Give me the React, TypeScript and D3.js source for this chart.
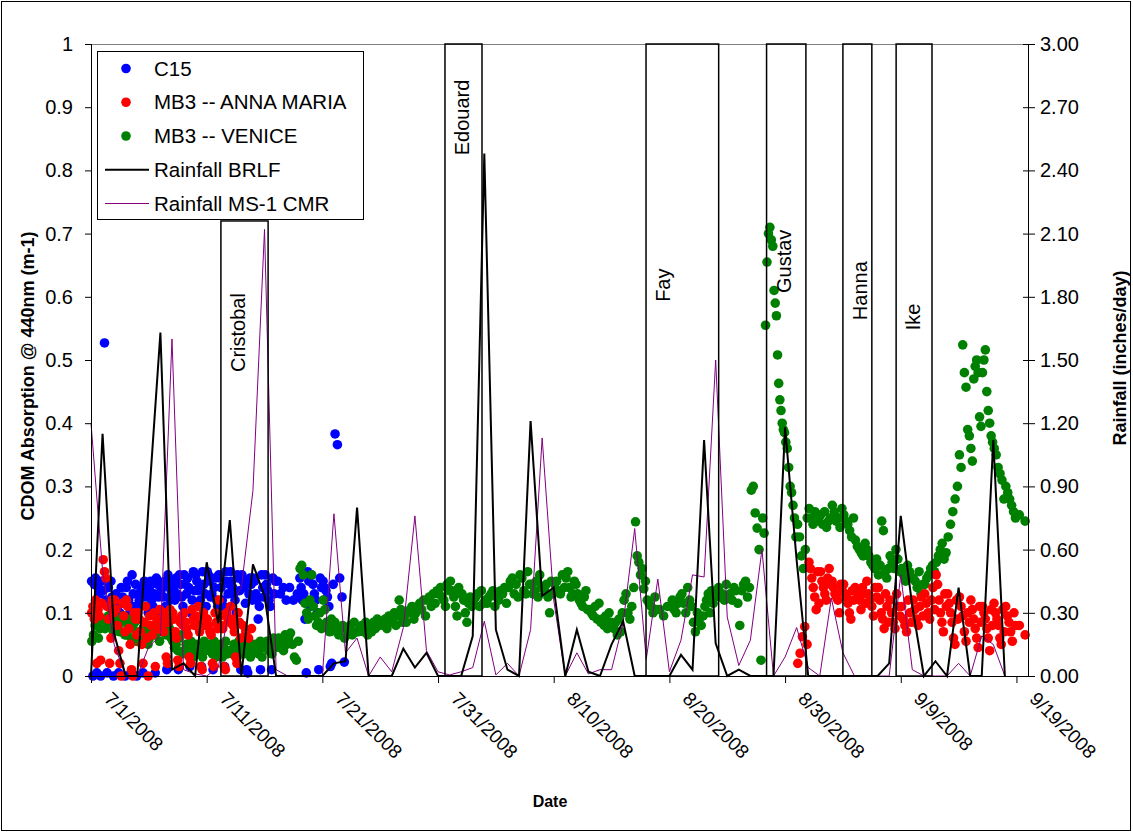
import React, { useEffect, useRef } from "react";
import * as d3 from "d3";

// first day of the record (7/1/2008); everything below is days after it
const startDate = new Date(Date.UTC(2008, 6, 1));
const axisDays = 81;
const tickDays = [0, 10, 20, 30, 40, 50, 60, 70, 80];

// daily rainfall (inches/day), day 0 = 7/1/2008
const rainBRLF = [
    0, 1.15, 0.2, 0, 0, 0.83, 1.63, 0.03, 0.06, 0, 0.54, 0.25, 0.74, 0, 0.53, 0.38,
    0, 0, 0, 0, 0, 0.06, 0.07, 0.8, 0, 0, 0, 0.13, 0.04, 0.11, 0, 0, 0, 0.19, 2.48,
    0.22, 0.03, 0, 1.21, 0.38, 0.42, 0, 0.22, 0.02, 0, 0.15, 0.26, 0, 0, 0, 0, 0.1,
    0.03, 1.12, 0.155, 0, 0.03, 0, 0, 0, 1.18, 0.55, 0, 0, 0, 0, 0, 0, 0, 0.06, 0.76,
    0.33, 0, 0.07, 0, 0.42, 0, 0, 1.12, 0,
];
const rainCMR = [
    1.2, 0.5, 0.15, 0, 0, 0.14, 0.19, 1.6, 0.03, 0.01, 0, 0.04, 0.33, 0.42, 0.88, 2.12,
    0.03, 0, 0, 0, 0, 0.77, 0.11, 0.18, 0, 0.09, 0.02, 0.23, 0.76, 0.12, 0.02, 0.005,
    0.02, 0.04, 0.26, 0.005, 0.06, 0, 0.22, 1.13, 0.36, 0, 0.11, 0.01, 0.03, 0.03, 0.25,
    0.7, 0.08, 0.46, 0.02, 0.17, 0.48, 0.47, 1.5, 0.28, 0.05, 0.17, 0.6, 0, 0.09, 0.23,
    0.04, 0, 0.37, 0.11, 0, 0, 0, 0, 0.48, 0.03, 0, 0, 0, 0.06, 0, 0.19, 0.15, 0,
];

// CDOM absorption samples: [day, readings taken that day]
const c15: [number, number[]][] = [
    [0, [0.15, 0.0, 0.145, 0.155, 0.005, 0.14, 0.13, 0.0, 0.15]],
    [1, [0.135, 0.527, 0.12, 0.005, 0.14, 0.11, 0.15, 0.125, 0.0]],
    [2, [0.12, 0.13, 0.11, 0.005, 0.1, 0.14, 0.125, 0.115, 0.0]],
    [3, [0.14, 0.15, 0.12, 0.1, 0.005, 0.16, 0.13, 0.11, 0.145, 0.0]],
    [4, [0.13, 0.12, 0.11, 0.14, 0.005, 0.15, 0.125, 0.135, 0.1]],
    [5, [0.14, 0.15, 0.12, 0.11, 0.13, 0.005, 0.155, 0.145, 0.125, 0.1]],
    [6, [0.135, 0.145, 0.125, 0.15, 0.11, 0.01, 0.16, 0.14, 0.12, 0.13]],
    [7, [0.15, 0.14, 0.12, 0.155, 0.13, 0.01, 0.16, 0.145, 0.125, 0.11]],
    [8, [0.16, 0.145, 0.13, 0.155, 0.14, 0.015, 0.1, 0.12, 0.165, 0.135]],
    [9, [0.16, 0.15, 0.135, 0.14, 0.12, 0.015, 0.165, 0.145, 0.13, 0.11]],
    [10, [0.165, 0.16, 0.15, 0.125, 0.13, 0.01, 0.14, 0.155, 0.12, 0.11]],
    [11, [0.16, 0.155, 0.14, 0.12, 0.11, 0.015, 0.165, 0.15, 0.13, 0.145]],
    [12, [0.165, 0.15, 0.14, 0.13, 0.12, 0.1, 0.16, 0.155, 0.135, 0.01]],
    [13, [0.16, 0.15, 0.14, 0.115, 0.01, 0.005, 0.13, 0.155, 0.145, 0.12]],
    [14, [0.155, 0.15, 0.13, 0.12, 0.09, 0.11, 0.01, 0.16, 0.14, 0.125]],
    [15, [0.16, 0.145, 0.135, 0.12, 0.11, 0.01, 0.155, 0.13, 0.15]],
    [16, [0.15, 0.13, 0.14, 0.12]],
    [17, [0.14, 0.12, 0.13]],
    [18, [0.155, 0.14, 0.12, 0.13, 0.09, 0.005, 0.165, 0.15, 0.11]],
    [19, [0.16, 0.145, 0.13, 0.12, 0.1, 0.01, 0.155, 0.14]],
    [20, [0.15, 0.14, 0.135, 0.125, 0.11, 0.015, 0.02, 0.145]],
    [21, [0.383, 0.366, 0.155, 0.125, 0.022]],
];

const annaMaria: [number, number[]][] = [
    [0, [0.1, 0.11, 0.09, 0.12, 0.02, 0.105, 0.095, 0.025, 0.115]],
    [1, [0.184, 0.165, 0.155, 0.11, 0.09, 0.02, 0.06, 0.12, 0.1]],
    [2, [0.12, 0.105, 0.08, 0.04, 0.02, 0.0, 0.115, 0.095, 0.07]],
    [3, [0.12, 0.11, 0.075, 0.05, 0.01, 0.0, 0.1, 0.09, 0.065]],
    [4, [0.1, 0.09, 0.07, 0.05, 0.02, 0.085, 0.11, 0.06, 0.0]],
    [5, [0.095, 0.08, 0.065, 0.1, 0.015, 0.09, 0.075, 0.105]],
    [6, [0.09, 0.08, 0.07, 0.1, 0.03, 0.02, 0.085, 0.105, 0.095]],
    [7, [0.1, 0.09, 0.07, 0.06, 0.025, 0.015, 0.085, 0.095, 0.08]],
    [8, [0.1, 0.085, 0.075, 0.065, 0.03, 0.02, 0.105, 0.09, 0.08]],
    [9, [0.095, 0.085, 0.11, 0.07, 0.015, 0.01, 0.1, 0.08, 0.09]],
    [10, [0.09, 0.08, 0.07, 0.065, 0.02, 0.015, 0.1, 0.085, 0.075]],
    [11, [0.12, 0.095, 0.08, 0.075, 0.015, 0.01, 0.1, 0.09, 0.085]],
    [12, [0.11, 0.09, 0.08, 0.07, 0.03, 0.02, 0.1, 0.085, 0.06]],
    [13, [0.08, 0.07, 0.06, 0.075]],
    [61, [0.02, 0.036, 0.062, 0.078, 0.05]],
    [62, [0.18, 0.17, 0.155, 0.14, 0.125, 0.105, 0.165, 0.115]],
    [63, [0.165, 0.15, 0.14, 0.13, 0.12, 0.155, 0.17, 0.145]],
    [64, [0.15, 0.14, 0.13, 0.125, 0.12, 0.1, 0.145, 0.135]],
    [65, [0.145, 0.13, 0.125, 0.115, 0.1, 0.09, 0.135, 0.12]],
    [66, [0.14, 0.135, 0.125, 0.12, 0.105, 0.14, 0.13, 0.115]],
    [67, [0.15, 0.13, 0.12, 0.11, 0.095, 0.14, 0.125]],
    [68, [0.14, 0.12, 0.1, 0.09, 0.075, 0.13, 0.11, 0.085]],
    [69, [0.12, 0.1, 0.085, 0.075, 0.13, 0.11, 0.095]],
    [70, [0.11, 0.09, 0.08, 0.07, 0.12, 0.1, 0.085]],
    [71, [0.12, 0.105, 0.09, 0.08, 0.11, 0.125, 0.095]],
    [72, [0.13, 0.115, 0.1, 0.09, 0.12, 0.14, 0.105]],
    [73, [0.16, 0.145, 0.12, 0.1, 0.085, 0.07, 0.13, 0.11]],
    [74, [0.13, 0.115, 0.1, 0.085, 0.06, 0.05, 0.12, 0.09]],
    [75, [0.125, 0.11, 0.095, 0.07, 0.055, 0.1, 0.085]],
    [76, [0.12, 0.105, 0.09, 0.075, 0.06, 0.045, 0.11, 0.085]],
    [77, [0.11, 0.1, 0.09, 0.075, 0.06, 0.04, 0.105, 0.08]],
    [78, [0.115, 0.1, 0.09, 0.08, 0.06, 0.05, 0.105, 0.07]],
    [79, [0.11, 0.095, 0.085, 0.07, 0.055, 0.1, 0.08]],
    [80, [0.08, 0.065]],
];

const venice: [number, number[]][] = [
    [0, [0.055, 0.065, 0.08, 0.085, 0.06, 0.075, 0.09]],
    [1, [0.09, 0.075, 0.085, 0.095, 0.08, 0.1, 0.07]],
    [2, [0.08, 0.09, 0.075, 0.07, 0.085, 0.095, 0.065]],
    [3, [0.065, 0.08, 0.09, 0.06, 0.075, 0.085, 0.055]],
    [4, [0.055, 0.07, 0.06, 0.075, 0.065, 0.08, 0.05]],
    [5, [0.06, 0.07, 0.08, 0.065, 0.075, 0.085, 0.055]],
    [6, [0.07, 0.085, 0.09, 0.065, 0.08, 0.075, 0.06]],
    [7, [0.055, 0.045, 0.05, 0.04, 0.06, 0.065, 0.035]],
    [8, [0.04, 0.05, 0.035, 0.045, 0.055, 0.03, 0.04]],
    [9, [0.05, 0.04, 0.035, 0.045, 0.03, 0.055, 0.04]],
    [10, [0.045, 0.05, 0.04, 0.035, 0.055, 0.03, 0.045]],
    [11, [0.04, 0.05, 0.03, 0.045, 0.055, 0.035, 0.04]],
    [12, [0.04, 0.035, 0.05, 0.045, 0.03, 0.055, 0.04]],
    [13, [0.045, 0.035, 0.05, 0.04, 0.055, 0.03, 0.045]],
    [14, [0.04, 0.05, 0.045, 0.035, 0.055, 0.03, 0.045]],
    [15, [0.045, 0.055, 0.04, 0.05, 0.035, 0.06, 0.045]],
    [16, [0.05, 0.06, 0.045, 0.055, 0.04, 0.065, 0.05]],
    [17, [0.06, 0.068, 0.05, 0.03, 0.025, 0.055]],
    [18, [0.17, 0.175, 0.16, 0.115, 0.1, 0.09, 0.12]],
    [19, [0.16, 0.11, 0.095, 0.08, 0.085, 0.1, 0.075]],
    [20, [0.12, 0.105, 0.085, 0.075, 0.07, 0.09, 0.08]],
    [21, [0.085, 0.07, 0.065, 0.075, 0.08, 0.06]],
    [22, [0.075, 0.07, 0.08, 0.065, 0.085, 0.07]],
    [23, [0.07, 0.075, 0.08, 0.07, 0.085, 0.065]],
    [24, [0.08, 0.07, 0.085, 0.075, 0.09, 0.08]],
    [25, [0.085, 0.08, 0.09, 0.075, 0.095, 0.085]],
    [26, [0.09, 0.1, 0.08, 0.095, 0.12, 0.105, 0.085]],
    [27, [0.095, 0.085, 0.1, 0.105, 0.11, 0.09]],
    [28, [0.1, 0.11, 0.115, 0.105, 0.12, 0.095]],
    [29, [0.12, 0.125, 0.11, 0.13, 0.115, 0.135]],
    [30, [0.13, 0.14, 0.125, 0.12, 0.11, 0.145, 0.135]],
    [31, [0.15, 0.135, 0.125, 0.11, 0.095, 0.14, 0.13]],
    [32, [0.13, 0.12, 0.1, 0.085, 0.115, 0.125, 0.11]],
    [33, [0.12, 0.125, 0.13, 0.11, 0.135, 0.115]],
    [34, [0.12, 0.115, 0.125, 0.13, 0.135, 0.11]],
    [35, [0.125, 0.12, 0.135, 0.13, 0.14, 0.115]],
    [36, [0.14, 0.15, 0.155, 0.13, 0.145, 0.125]],
    [37, [0.16, 0.155, 0.135, 0.13, 0.165, 0.145]],
    [38, [0.145, 0.13, 0.135, 0.15, 0.125, 0.16, 0.14]],
    [39, [0.14, 0.135, 0.145, 0.125, 0.1, 0.15, 0.13]],
    [40, [0.145, 0.15, 0.135, 0.13, 0.16, 0.14]],
    [41, [0.155, 0.165, 0.14, 0.125, 0.13, 0.15, 0.145]],
    [42, [0.13, 0.12, 0.115, 0.11, 0.125, 0.135, 0.105]],
    [43, [0.105, 0.1, 0.095, 0.11, 0.09, 0.115]],
    [44, [0.085, 0.09, 0.08, 0.095, 0.075, 0.1, 0.085]],
    [45, [0.08, 0.075, 0.085, 0.065, 0.09, 0.07, 0.1]],
    [46, [0.12, 0.13, 0.1, 0.09, 0.11, 0.14]],
    [47, [0.244, 0.19, 0.18, 0.16, 0.17, 0.138, 0.15]],
    [48, [0.12, 0.115, 0.11, 0.1, 0.125, 0.105]],
    [49, [0.105, 0.095, 0.11]],
    [50, [0.11, 0.12, 0.105, 0.1, 0.115, 0.125]],
    [51, [0.13, 0.115, 0.1, 0.14, 0.12, 0.11]],
    [52, [0.085, 0.07, 0.1, 0.09, 0.08, 0.095]],
    [53, [0.11, 0.12, 0.13, 0.1, 0.135, 0.115, 0.125]],
    [54, [0.135, 0.14, 0.125, 0.13, 0.12, 0.145]],
    [55, [0.125, 0.13, 0.12, 0.14, 0.135, 0.115]],
    [56, [0.08, 0.135, 0.145, 0.15, 0.125, 0.14]],
    [57, [0.294, 0.3, 0.258, 0.234, 0.2, 0.025]],
    [58, [0.25, 0.226, 0.555, 0.655, 0.7, 0.71, 0.69, 0.68]],
    [59, [0.61, 0.59, 0.57, 0.508, 0.463, 0.437, 0.42, 0.4, 0.39, 0.385]],
    [60, [0.37, 0.36, 0.33, 0.3, 0.29, 0.27, 0.25, 0.22]],
    [61, [0.24, 0.22, 0.19, 0.17, 0.2, 0.25]],
    [62, [0.265, 0.25, 0.24, 0.26, 0.255, 0.245]],
    [63, [0.255, 0.24, 0.26, 0.235, 0.245, 0.25]],
    [64, [0.27, 0.26, 0.245, 0.25, 0.235, 0.265]],
    [65, [0.255, 0.245, 0.24, 0.23, 0.22, 0.25]],
    [66, [0.215, 0.205, 0.2, 0.195, 0.19, 0.21]],
    [67, [0.2, 0.19, 0.18, 0.175, 0.17, 0.185]],
    [68, [0.16, 0.175, 0.245, 0.23, 0.165, 0.155, 0.17]],
    [69, [0.19, 0.18, 0.17, 0.2, 0.185, 0.165]],
    [70, [0.17, 0.16, 0.15, 0.175, 0.165, 0.155]],
    [71, [0.155, 0.15, 0.14, 0.165, 0.13, 0.145]],
    [72, [0.145, 0.155, 0.16, 0.17, 0.175, 0.165]],
    [73, [0.18, 0.19, 0.2, 0.21, 0.185, 0.195]],
    [74, [0.22, 0.24, 0.26, 0.28, 0.3]],
    [75, [0.35, 0.33, 0.524, 0.48, 0.457, 0.39, 0.38]],
    [76, [0.36, 0.34, 0.47, 0.49, 0.5, 0.48, 0.41, 0.395]],
    [77, [0.48, 0.5, 0.516, 0.45, 0.42, 0.4, 0.38, 0.37]],
    [78, [0.36, 0.35, 0.33, 0.32, 0.31, 0.28]],
    [79, [0.3, 0.29, 0.28, 0.27, 0.26, 0.25]],
    [80, [0.255, 0.245]],
];

// storms: name, first and last day (days after 7/1), top of box on the CDOM axis
const storms: [string, number, number, number][] = [
    ["Cristobal", 11.23, 15.31, 0.72],
    ["Edouard", 30.6, 33.8, 1],
    ["Fay", 47.98, 54.26, 1],
    ["Gustav", 58.4, 61.8, 1],
    ["Hanna", 65.0, 67.5, 1],
    ["Ike", 69.6, 72.7, 1],
];
// where each storm name starts (CDOM axis units)
const stormLabelAt = [0.481, 0.824, 0.592, 0.606, 0.563, 0.547];

const seriesNames = ["C15", "MB3 -- ANNA MARIA", "MB3 -- VENICE", "Rainfall BRLF", "Rainfall MS-1 CMR"];

const FONT = "'Liberation Sans', Arial, Helvetica, sans-serif";

const App: React.FC = () => {
    const ref = useRef<SVGSVGElement>(null);

    useEffect(() => {
        const svg = d3.select(ref.current);
        svg.selectAll("*").remove();

        const left = 91, right = 1028, top = 44, bottom = 676;

        const x = d3
            .scaleUtc()
            .domain([startDate, d3.utcDay.offset(startDate, axisDays)])
            .range([left, right]);
        const dayX = (d: number) => x(new Date(startDate.getTime() + d * 864e5));
        const yL = d3.scaleLinear().domain([0, 1]).range([bottom, top]);
        const yR = d3.scaleLinear().domain([0, 3]).range([bottom, top]);

        svg.append("rect")
            .attr("width", 1133)
            .attr("height", 833)
            .attr("fill", "white");
        // chart border
        svg.append("rect")
            .attr("x", 1.5)
            .attr("y", 1.5)
            .attr("width", 1129)
            .attr("height", 829)
            .attr("fill", "none")
            .attr("stroke", "black")
            .attr("stroke-width", 1);

        // plot area top edge
        svg.append("line")
            .attr("x1", left)
            .attr("x2", right)
            .attr("y1", top + 0.5)
            .attr("y2", top + 0.5)
            .attr("stroke", "#808080");

        // scatter series
        const dots = (data: [number, number[]][], color: string) => {
            const pts: [number, number][] = [];
            data.forEach(([day, vals]) =>
                vals.forEach((v, i) => pts.push([day + (i + 0.5) / vals.length, v]))
            );
            svg.append("g")
                .selectAll("circle")
                .data(pts)
                .enter()
                .append("circle")
                .attr("cx", (d) => dayX(d[0]))
                .attr("cy", (d) => yL(d[1]))
                .attr("r", 4.8)
                .attr("fill", color);
        };
        dots(c15, "#0000FF");
        dots(venice, "#008000");
        dots(annaMaria, "#FF0000");

        // rainfall lines
        const rainLine = d3
            .line<number>()
            .x((_, i) => dayX(i))
            .y((d) => yR(d));
        svg.append("path")
            .attr("d", rainLine(rainCMR))
            .attr("fill", "none")
            .attr("stroke", "#800080")
            .attr("stroke-width", 1);
        svg.append("path")
            .attr("d", rainLine(rainBRLF))
            .attr("fill", "none")
            .attr("stroke", "black")
            .attr("stroke-width", 2);

        // storm boxes
        storms.forEach(([name, a, b, t], i) => {
            svg.append("rect")
                .attr("x", dayX(a))
                .attr("y", yL(t))
                .attr("width", dayX(b) - dayX(a))
                .attr("height", yL(0) - yL(t))
                .attr("fill", "none")
                .attr("stroke", "black")
                .attr("stroke-width", 1.5);
            svg.append("text")
                .attr("transform", `translate(${dayX(a) + 17},${yL(stormLabelAt[i])}) rotate(-90)`)
                .attr("dy", "0.35em")
                .attr("font-family", FONT)
                .attr("font-size", 20)
                .text(name);
        });

        // left axis
        const gl = svg.append("g").attr("font-family", FONT).attr("font-size", 20);
        gl.append("line")
            .attr("x1", left + 0.5)
            .attr("x2", left + 0.5)
            .attr("y1", top)
            .attr("y2", bottom)
            .attr("stroke", "black");
        yL.ticks(10).forEach((v) => {
            gl.append("line")
                .attr("x1", left - 6)
                .attr("x2", left)
                .attr("y1", yL(v) + 0.5)
                .attr("y2", yL(v) + 0.5)
                .attr("stroke", "black");
            gl.append("text")
                .attr("x", left - 18)
                .attr("y", yL(v))
                .attr("dy", "0.35em")
                .attr("text-anchor", "end")
                .text(d3.format("~g")(v));
        });

        // right axis
        const gr = svg.append("g").attr("font-family", FONT).attr("font-size", 20);
        gr.append("line")
            .attr("x1", right + 0.5)
            .attr("x2", right + 0.5)
            .attr("y1", top)
            .attr("y2", bottom)
            .attr("stroke", "black");
        d3.range(0, 11).forEach((k) => {
            const v = (k * 3) / 10;
            gr.append("line")
                .attr("x1", right - 5)
                .attr("x2", right + 7)
                .attr("y1", yR(v) + 0.5)
                .attr("y2", yR(v) + 0.5)
                .attr("stroke", "black");
            gr.append("text")
                .attr("x", right + 12)
                .attr("y", yR(v))
                .attr("dy", "0.35em")
                .text(d3.format(".2f")(v));
        });

        // bottom axis
        const gb = svg.append("g").attr("font-family", FONT).attr("font-size", 19);
        gb.append("line")
            .attr("x1", left)
            .attr("x2", right)
            .attr("y1", bottom + 0.5)
            .attr("y2", bottom + 0.5)
            .attr("stroke", "black");
        const fmt = d3.utcFormat("%-m/%-d/%Y");
        tickDays.forEach((d) => {
            const tx = dayX(d);
            gb.append("line")
                .attr("x1", tx + 0.5)
                .attr("x2", tx + 0.5)
                .attr("y1", bottom)
                .attr("y2", bottom + 7)
                .attr("stroke", "black");
            gb.append("text")
                .attr("transform", `translate(${tx + 12},${bottom + 24}) rotate(45)`)
                .text(fmt(d3.utcDay.offset(startDate, d)));
        });

        // axis titles
        svg.append("text")
            .attr("transform", "translate(28,376) rotate(-90)")
            .attr("text-anchor", "middle")
            .attr("dy", "0.35em")
            .attr("font-family", FONT)
            .attr("font-weight", "bold")
            .attr("font-size", 18)
            .text("CDOM Absorption @ 440nm (m-1)");
        svg.append("text")
            .attr("transform", "translate(1120,358) rotate(-90)")
            .attr("text-anchor", "middle")
            .attr("dy", "0.35em")
            .attr("font-family", FONT)
            .attr("font-weight", "bold")
            .attr("font-size", 18)
            .text("Rainfall (inches/day)");
        svg.append("text")
            .attr("x", 550)
            .attr("y", 807)
            .attr("text-anchor", "middle")
            .attr("font-family", FONT)
            .attr("font-weight", "bold")
            .attr("font-size", 16)
            .text("Date");

        // legend
        const lg = svg.append("g").attr("font-family", FONT).attr("font-size", 20.5);
        lg.append("rect")
            .attr("x", 97.5)
            .attr("y", 51.5)
            .attr("width", 266)
            .attr("height", 168)
            .attr("fill", "white")
            .attr("stroke", "black");
        const colors = ["#0000FF", "#FF0000", "#008000", "black", "#800080"];
        seriesNames.forEach((name, i) => {
            const cy = 68.5 + i * 33.75;
            if (i < 3) {
                lg.append("circle").attr("cx", 126).attr("cy", cy).attr("r", 4.8).attr("fill", colors[i]);
            } else {
                lg.append("line")
                    .attr("x1", 105)
                    .attr("x2", 149)
                    .attr("y1", cy)
                    .attr("y2", cy)
                    .attr("stroke", colors[i])
                    .attr("stroke-width", i === 3 ? 2 : 1);
            }
            lg.append("text")
                .attr("x", 154)
                .attr("y", cy)
                .attr("dy", "0.35em")
                .text(name);
        });
    }, []);

    return (
        <div>
            <style>{"body{margin:0}"}</style>
            <svg ref={ref} width={1133} height={833} style={{ display: "block" }} />
        </div>
    );
};

export default App;
